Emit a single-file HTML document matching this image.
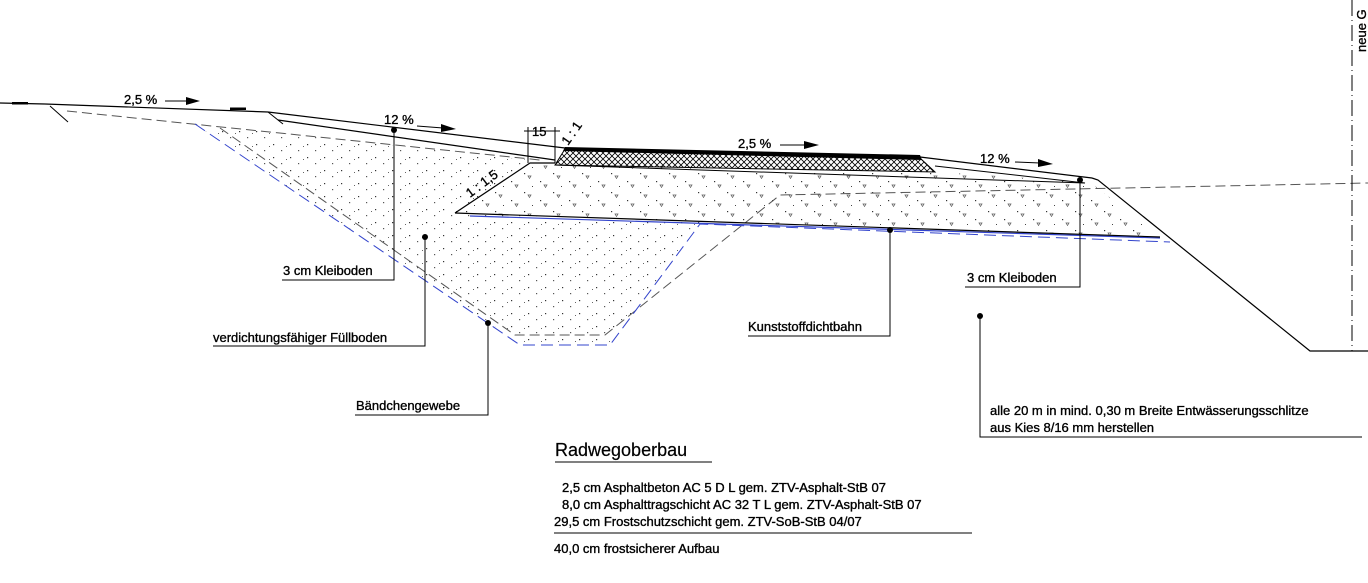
<!DOCTYPE html>
<html><head><meta charset="utf-8"><style>
html,body{margin:0;padding:0;background:#fff;}
svg{display:block;font-family:"Liberation Sans",Arial,sans-serif;}
text{font-size:13px;fill:#000;stroke:#000;stroke-width:0.35;}
</style></head><body>
<svg width="1368" height="583" viewBox="0 0 1368 583" xmlns="http://www.w3.org/2000/svg">
<defs>
<pattern id="dots" width="17" height="13" patternUnits="userSpaceOnUse">
<rect x="1" y="1" width="1.2" height="1.2" fill="#333"/><rect x="9" y="7" width="1.2" height="1.2" fill="#555"/><rect x="14" y="3" width="1" height="1" fill="#666"/>
</pattern>
<pattern id="tri" width="29" height="19" patternUnits="userSpaceOnUse">
<rect x="2" y="2" width="1.2" height="1.2" fill="#333"/><rect x="18" y="10" width="1.2" height="1.2" fill="#333"/><rect x="10" y="15" width="1" height="1" fill="#444"/>
<path d="M6 5 l3 0 l-1.5 2.5z M22 14 l3 0 l-1.5 2.5z" fill="none" stroke="#555" stroke-width="0.7"/>
</pattern>
<pattern id="hatch" width="6" height="6" patternUnits="userSpaceOnUse">
<path d="M0 0 L6 6 M6 0 L0 6" stroke="#000" stroke-width="0.8"/>
</pattern>
</defs>

<polygon points="195,124 530,160 455,213 700,222 610,343 520,343" fill="url(#dots)"/>
<polygon points="530,163 935,172 1090,182 1160,237 455,213" fill="url(#tri)"/>

<line x1="0" y1="103" x2="45" y2="104" stroke="#000" stroke-width="1.2"/>
<line x1="45" y1="104" x2="268" y2="112" stroke="#000" stroke-width="1.2"/>
<rect x="12" y="102" width="16" height="2.5" fill="#000"/>
<rect x="230" y="107.5" width="16" height="2.5" fill="#000"/>
<line x1="50" y1="106" x2="68" y2="122" stroke="#000"/>
<line x1="268" y1="112" x2="283" y2="124" stroke="#000"/>
<line x1="268" y1="112" x2="565" y2="148" stroke="#000" stroke-width="1.2"/>
<line x1="278" y1="120" x2="555" y2="160" stroke="#000" stroke-width="1.2"/>
<polyline points="67,111 540,160" fill="none" stroke="#555" stroke-dasharray="10,5"/>
<polyline points="220,128 515,335 605,335 780,195 1368,183" fill="none" stroke="#555" stroke-dasharray="10,5"/>
<polyline points="195,124 520,345 610,345 700,224 1170,242" fill="none" stroke="#3344cc" stroke-dasharray="12,6"/>
<line x1="470" y1="216" x2="1160" y2="238" stroke="#3344cc" stroke-width="1.2"/>
<polyline points="455,213 530,163 555,163" fill="none" stroke="#000" stroke-width="1.2"/>
<line x1="455" y1="213" x2="1160" y2="237" stroke="#000" stroke-width="1.2"/>
<polygon points="565,149 920,158 935,172 555,165" fill="url(#hatch)" stroke="#000"/>
<polygon points="565,147 920,155 922,160 563,151" fill="#000"/>
<line x1="555" y1="165" x2="1085" y2="183" stroke="#000"/>
<line x1="920" y1="157" x2="1092" y2="178" stroke="#000" stroke-width="1.2"/>
<line x1="935" y1="166" x2="1085" y2="183" stroke="#000"/>
<polyline points="1092,178 1098,180 1310,351 1368,351" fill="none" stroke="#000" stroke-width="1.2"/>
<line x1="1352" y1="0" x2="1352" y2="351" stroke="#000" stroke-dasharray="16,4,1,4"/>
<text transform="translate(1366,52) rotate(-90)">neue G</text>

<line x1="528" y1="127" x2="528" y2="163" stroke="#000"/>
<line x1="555" y1="127" x2="555" y2="163" stroke="#000"/>
<line x1="524" y1="131" x2="560" y2="131" stroke="#000"/>
<text x="532" y="136">15</text>
<text transform="translate(568,146) rotate(-55)">1 : 1</text>
<text transform="translate(470,198) rotate(-37)">1 : 1,5</text>

<text x="124" y="104">2,5 %</text>
<path d="M165 101 L188 101" stroke="#000"/><path d="M186 97 L200 101 L186 105z"/>
<text x="384" y="124">12 %</text>
<path d="M417 126 L443 128" stroke="#000"/><path d="M441 124 L456 129 L441 132z"/>
<text x="738" y="148">2,5 %</text>
<path d="M780 145 L806 145" stroke="#000"/><path d="M804 141 L819 145 L804 149z"/>
<text x="980" y="163">12 %</text>
<path d="M1015 162 L1040 163" stroke="#000"/><path d="M1038 159 L1053 164 L1038 167z"/>

<g stroke="#000" fill="none">
<polyline points="394,130 394,280 282,280"/>
<polyline points="1080,180 1080,287 965,287"/>
<polyline points="425,237 425,346 213,346"/>
<polyline points="488,323 488,415 355,415"/>
<polyline points="890,230 890,336 748,336"/>
<polyline points="980,316 980,437 1362,437"/>
</g>
<g fill="#000">
<circle cx="394" cy="130" r="3"/><circle cx="1080" cy="180" r="3"/><circle cx="425" cy="237" r="3"/>
<circle cx="488" cy="323" r="3"/><circle cx="890" cy="230" r="3"/><circle cx="980" cy="316" r="3"/>
</g>
<text x="283" y="275">3 cm Kleiboden</text>
<text x="967" y="282">3 cm Kleiboden</text>
<text x="213" y="342">verdichtungsfähiger Füllboden</text>
<text x="356" y="410">Bändchengewebe</text>
<text x="748" y="331">Kunststoffdichtbahn</text>
<text x="990" y="415">alle 20 m in mind. 0,30 m Breite Entwässerungsschlitze</text>
<text x="990" y="432">aus Kies 8/16 mm herstellen</text>

<text x="555" y="456" style="font-size:18px;stroke-width:0.2">Radwegoberbau</text>
<line x1="555" y1="462" x2="712" y2="462" stroke="#000"/>
<text x="562" y="492">2,5 cm Asphaltbeton  AC 5 D L gem. ZTV-Asphalt-StB 07</text>
<text x="562" y="509">8,0 cm Asphalttragschicht AC 32 T L  gem. ZTV-Asphalt-StB 07</text>
<text x="554" y="526">29,5 cm Frostschutzschicht gem. ZTV-SoB-StB 04/07</text>
<line x1="554" y1="533" x2="972" y2="533" stroke="#000"/>
<text x="554" y="553">40,0 cm frostsicherer Aufbau</text>
</svg>
</body></html>
